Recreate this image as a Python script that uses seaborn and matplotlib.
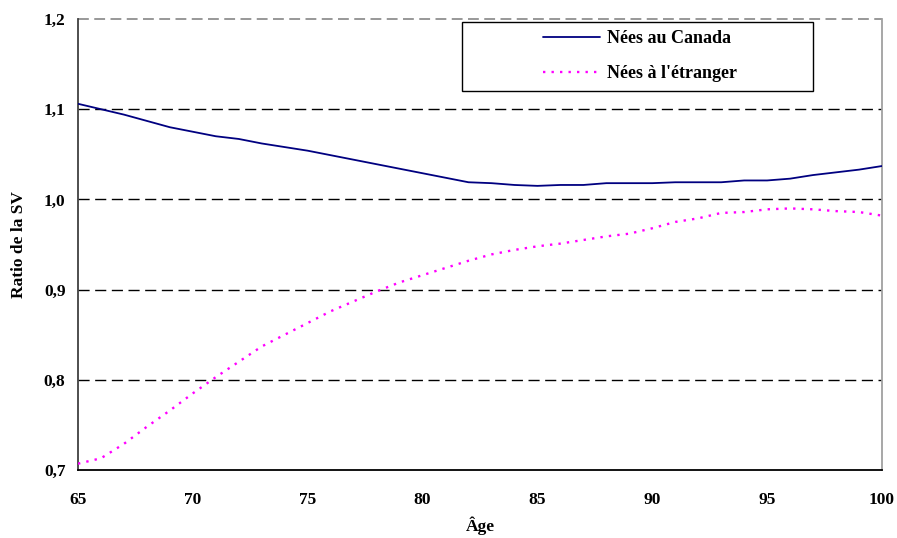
import numpy as np
import pandas as pd
import matplotlib
matplotlib.use("Agg")
import matplotlib.pyplot as plt
import seaborn as sns
from matplotlib.patches import Rectangle

ages = list(range(65, 101))
canada = [1.106, 1.100, 1.094, 1.087, 1.080, 1.075, 1.070, 1.067, 1.062, 1.058,
          1.054, 1.049, 1.044, 1.039, 1.034, 1.029, 1.024, 1.019, 1.018, 1.016,
          1.015, 1.016, 1.016, 1.018, 1.018, 1.018, 1.019, 1.019, 1.019, 1.021,
          1.021, 1.023, 1.027, 1.030, 1.033, 1.037]
etranger = [0.707, 0.713, 0.729, 0.748, 0.766, 0.785, 0.803, 0.820, 0.837, 0.850,
            0.863, 0.876, 0.887, 0.898, 0.908, 0.916, 0.924, 0.932, 0.939, 0.944,
            0.948, 0.951, 0.955, 0.959, 0.962, 0.968, 0.975, 0.979, 0.985, 0.986,
            0.989, 0.990, 0.989, 0.987, 0.986, 0.982]
series_names = ["Nées au Canada", "Nées à l'étranger"]
x_ticks = [65, 70, 75, 80, 85, 90, 95, 100]
y_ticks = [0.7, 0.8, 0.9, 1.0, 1.1, 1.2]
x_label = "Âge"
y_label = "Ratio de la SV"

sns.set_style("white")
plt.rcParams['font.family'] = ['Liberation Serif', 'DejaVu Serif']
plt.rcParams['font.weight'] = 'bold'
plt.rcParams['text.color'] = 'black'
plt.rcParams['axes.labelcolor'] = 'black'
plt.rcParams['xtick.labelcolor'] = 'black'
plt.rcParams['ytick.labelcolor'] = 'black'

df = pd.DataFrame({
    "age": ages * 2,
    "ratio": canada + etranger,
    "groupe": [series_names[0]] * len(ages) + [series_names[1]] * len(ages),
})

fig = plt.figure(figsize=(8.97, 5.38), dpi=100)
ax = fig.add_axes([78 / 897, 1 - 470 / 538, (882 - 78) / 897, (470 - 19) / 538])

# gridlines
for yv in y_ticks[1:-1]:
    ax.axhline(yv, color="black", lw=1.0, linestyle=(0, (8, 4)), zorder=1)
ax.axhline(1.2, color="#909090", lw=1.3, linestyle=(0, (6, 3)), zorder=1, clip_on=False)

sns.lineplot(data=df[df.groupe == series_names[0]], x="age", y="ratio", ax=ax,
             color="#000080", lw=1.3, label=series_names[0], zorder=3)
sns.lineplot(data=df[df.groupe == series_names[1]], x="age", y="ratio", ax=ax,
             color="#FF00FF", lw=1.7, linestyle=(0, (1.0, 2.6)), label=series_names[1], zorder=3)

ax.set_xlim(65, 100)
ax.set_ylim(0.7, 1.2)
ax.set_xticks(x_ticks)
ax.set_yticks(y_ticks)
ax.set_xticklabels([str(v) for v in x_ticks], fontsize=12.5, fontweight="bold")
ax.set_yticklabels([f"{v:.1f}".replace(".", ",") for v in y_ticks], fontsize=12.5, fontweight="bold")
ax.tick_params(axis="both", direction="out", length=6, width=1, color="#404040")
ax.tick_params(axis="x", pad=10)
ax.tick_params(axis="y", pad=3)

ax.spines["top"].set_visible(False)
ax.spines["left"].set_color("#404040")
ax.spines["left"].set_linewidth(1.3)
ax.spines["bottom"].set_color("black")
ax.spines["bottom"].set_linewidth(1.3)
ax.spines["right"].set_color("#a0a0a0")
ax.spines["right"].set_linewidth(1.3)

ax.set_xlabel(x_label, fontsize=12.5, fontweight="bold")
ax.set_ylabel(y_label, fontsize=12.5, fontweight="bold")
ax.xaxis.set_label_coords(0.5, 1 - (526 - 19) / 451, transform=ax.transAxes)
ax.xaxis.label.set_verticalalignment("center")
ax.yaxis.set_label_coords((19 - 78) / 804, 0.5, transform=ax.transAxes)
ax.yaxis.label.set_verticalalignment("center")

# legend
rect = Rectangle((462 / 897, 1 - 91 / 538), (813 - 462) / 897, (91 - 22) / 538,
                 transform=fig.transFigure, facecolor="white", edgecolor="black",
                 lw=1.0, zorder=4, clip_on=False)
ax.add_patch(rect)
handles, labels = ax.get_legend_handles_labels()
leg = ax.legend(handles, labels, loc="center left", frameon=False,
                bbox_to_anchor=(543 / 897, 1 - 56 / 538), bbox_transform=fig.transFigure,
                borderpad=0, borderaxespad=0, handlelength=3.15, handletextpad=0.4,
                labelspacing=1.0, prop={"family": "Liberation Serif", "weight": "bold", "size": 13})
leg.set_zorder(6)

fig.savefig("out.png", dpi=100)
